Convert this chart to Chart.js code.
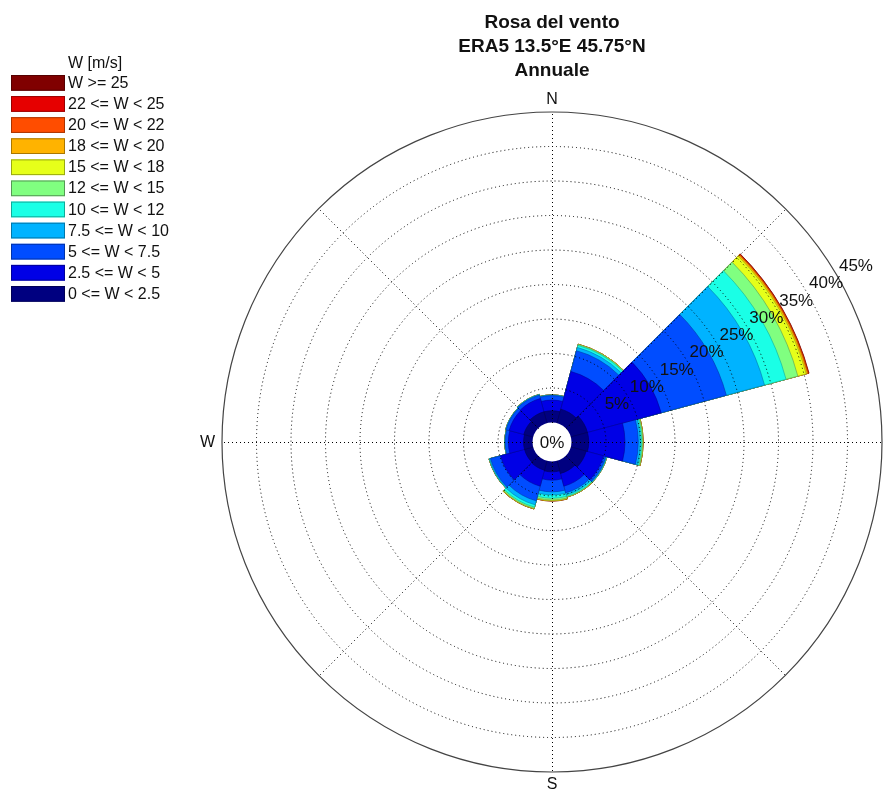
<!DOCTYPE html>
<html>
<head>
<meta charset="utf-8">
<title>Rosa del vento</title>
<script src="https://cdn.jsdelivr.net/npm/chart.js@4.4.1/dist/chart.umd.min.js"></script>
<style>
  html, body { margin: 0; padding: 0; background: #fff; }
  #wrap { width: 890px; height: 790px; }
</style>
</head>
<body>
<div id="wrap"><canvas id="rose" width="890" height="790"></canvas></div>
<script>
// 12 direction sectors, 30 deg wide, clockwise from north
const directions = ['0°', '30°', '60°', '90°', '120°', '150°', '180°', '210°', '240°', '270°', '300°', '330°']

// speed classes, low to high
const speedClasses = ['0 <= W < 2.5', '2.5 <= W < 5', '5 <= W < 7.5', '7.5 <= W < 10', '10 <= W < 12',
  '12 <= W < 15', '15 <= W < 18', '18 <= W < 20', '20 <= W < 22', '22 <= W < 25', 'W >= 25']
const classColors = ['#000080', '#0000e6', '#004dff', '#00b3ff', '#1affe6',
  '#80ff80', '#e6ff1a', '#ffb300', '#ff4d00', '#e60000', '#800000']
const edgeColors = ['#000055', '#00009a', '#0033aa', '#0077aa', '#11aa99',
  '#559955', '#99aa11', '#aa7700', '#aa3300', '#990000', '#550000']

// frequency (%) per direction for each speed class
const w0to2_5 = [1.7, 2.1, 2.5, 2.5, 2.3, 1.9, 1.5, 1.4, 1.3, 1.3, 1.4, 1.7]
const w2_5to5 = [1.55, 5.65, 11.05, 5.25, 2.6, 1.9, 1.2, 2.4, 3.6, 2.2, 2.2, 2.0]
const w5to7_5 = [0.65, 3.12, 9.78, 1.93, 0.35, 1.0, 1.7, 2.2, 1.5, 0.45, 0.45, 0.5]
const w7_5to10 = [0.06, 0.49, 5.73, 0.3, 0.1, 0.3, 0.45, 0.6, 0.15, 0.05, 0.05, 0.07]
const w10to12 = [0.03, 0.32, 3.23, 0.2, 0.05, 0.2, 0.48, 0.35, 0.05, 0.02, 0.02, 0.03]
const w12to15 = [0.01, 0.12, 1.77, 0.15, 0.02, 0.1, 0.25, 0.18, 0.02, 0.01, 0.01, 0.01]
const w15to18 = [0, 0.04, 1.25, 0.05, 0.01, 0.04, 0.1, 0.07, 0.01, 0, 0, 0]
const w18to20 = [0, 0.01, 0.22, 0.01, 0, 0.01, 0.04, 0.02, 0, 0, 0, 0]
const w20to22 = [0, 0, 0.12, 0, 0, 0, 0.01, 0.01, 0, 0, 0, 0]
const w22to25 = [0, 0, 0.06, 0, 0, 0, 0, 0, 0, 0, 0, 0]
const w25up = [0, 0, 0.03, 0, 0, 0, 0, 0, 0, 0, 0, 0]

const classValues = [w0to2_5, w2_5to5, w5to7_5, w7_5to10, w10to12, w12to15,
  w15to18, w18to20, w20to22, w22to25, w25up]

// radial rings (%)
const ringTicks = [5, 10, 15, 20, 25, 30, 35, 40, 45]
const rMax = 45
const holeRadiusPx = 19.5
const titleLines = ['Rosa del vento', 'ERA5 13.5°E 45.75°N', 'Annuale']

const FONT = '"Liberation Sans", Arial, Helvetica, sans-serif'

// stacked rose: each dataset is the cumulative total, smallest drawn on top
let running = directions.map(() => 0)
const datasets = classValues.map((vals, i) => {
  running = running.map((r, j) => r + vals[j])
  return {
    label: speedClasses[i],
    data: running.slice(),
    backgroundColor: classColors[i],
    borderColor: edgeColors[i],
    borderWidth: 0.6
  }
})

const polar = (cx, cy, r, deg) => {
  const a = deg * Math.PI / 180
  return [cx + r * Math.sin(a), cy - r * Math.cos(a)]
}

const roseDecor = {
  id: 'roseDecor',
  afterDatasetsDraw (chart) {
    const ctx = chart.ctx
    const scale = chart.scales.r
    const cx = scale.xCenter
    const cy = scale.yCenter
    const r0 = scale.getDistanceFromCenterForValue(0)
    const rOut = scale.getDistanceFromCenterForValue(rMax)

    ctx.save()
    // centre hole
    ctx.fillStyle = '#fff'
    ctx.beginPath()
    ctx.arc(cx, cy, r0, 0, Math.PI * 2)
    ctx.fill()

    // dotted rings
    ctx.strokeStyle = '#000'
    ctx.lineWidth = 1
    ctx.setLineDash([1, 3])
    ringTicks.slice(0, -1).forEach(v => {
      ctx.beginPath()
      ctx.arc(cx, cy, scale.getDistanceFromCenterForValue(v), 0, Math.PI * 2)
      ctx.stroke()
    })
    // dotted spokes
    for (let d = 0; d < 360; d += 45) {
      const [x1, y1] = polar(cx + 0.5, cy + 0.5, r0, d)
      const [x2, y2] = polar(cx + 0.5, cy + 0.5, rOut, d)
      ctx.beginPath()
      ctx.moveTo(x1, y1)
      ctx.lineTo(x2, y2)
      ctx.stroke()
    }
    ctx.setLineDash([])
    // outer circle
    ctx.strokeStyle = '#444'
    ctx.lineWidth = 1.2
    ctx.beginPath()
    ctx.arc(cx, cy, rOut, 0, Math.PI * 2)
    ctx.stroke()

    // ring labels
    ctx.fillStyle = '#111'
    ctx.font = '17px ' + FONT
    ctx.textAlign = 'center'
    ctx.textBaseline = 'middle'
    ringTicks.forEach(v => {
      const [x, y] = polar(cx, cy, scale.getDistanceFromCenterForValue(v) + 21, 60)
      ctx.fillText(v + '%', x, y)
    })
    ctx.fillText('0%', cx, cy + 1)

    // compass labels
    ctx.font = '16px ' + FONT
    ctx.textBaseline = 'bottom'
    ctx.fillText('N', cx, cy - rOut - 4)
    ctx.textBaseline = 'top'
    ctx.fillText('S', cx, cy + rOut + 5)
    ctx.textBaseline = 'middle'
    ctx.textAlign = 'right'
    ctx.fillText('W', cx - rOut - 7, cy + 1)
    ctx.textAlign = 'left'
    ctx.fillText('E', cx + rOut + 7, cy + 1)

    // title
    ctx.font = 'bold 19px ' + FONT
    ctx.textAlign = 'center'
    ctx.textBaseline = 'alphabetic'
    titleLines.forEach((t, i) => ctx.fillText(t, cx, 27.5 + i * 24))

    // legend, highest class first
    ctx.font = '16px ' + FONT
    ctx.textAlign = 'left'
    ctx.textBaseline = 'middle'
    ctx.fillText('W [m/s]', 68, 64)
    for (let k = 0; k < speedClasses.length; k++) {
      const i = speedClasses.length - 1 - k
      const y = 75 + k * 21.1
      ctx.fillStyle = classColors[i]
      ctx.fillRect(11, y, 54, 15.7)
      ctx.strokeStyle = edgeColors[i]
      ctx.lineWidth = 1
      ctx.strokeRect(11.5, y + 0.5, 53, 14.7)
      ctx.fillStyle = '#111'
      ctx.fillText(speedClasses[i], 68, y + 8.5)
    }
    ctx.restore()
  }
}

const ctx = document.getElementById('rose').getContext('2d')
const chart = new Chart(ctx, {
  type: 'polarArea',
  data: { labels: directions, datasets },
  options: {
    responsive: false,
    animation: false,
    layout: { padding: { left: 222, top: 112, right: 8, bottom: 18 } },
    plugins: {
      legend: { display: false },
      title: { display: false },
      tooltip: { enabled: false }
    },
    scales: {
      r: {
        startAngle: -15,
        // map 0% to the edge of the white centre hole
        min: -holeRadiusPx * rMax / (330 - holeRadiusPx),
        max: rMax,
        grid: { display: false },
        angleLines: { display: false },
        ticks: { display: false },
        pointLabels: { display: false }
      }
    }
  },
  plugins: [roseDecor]
})
</script>
</body>
</html>
